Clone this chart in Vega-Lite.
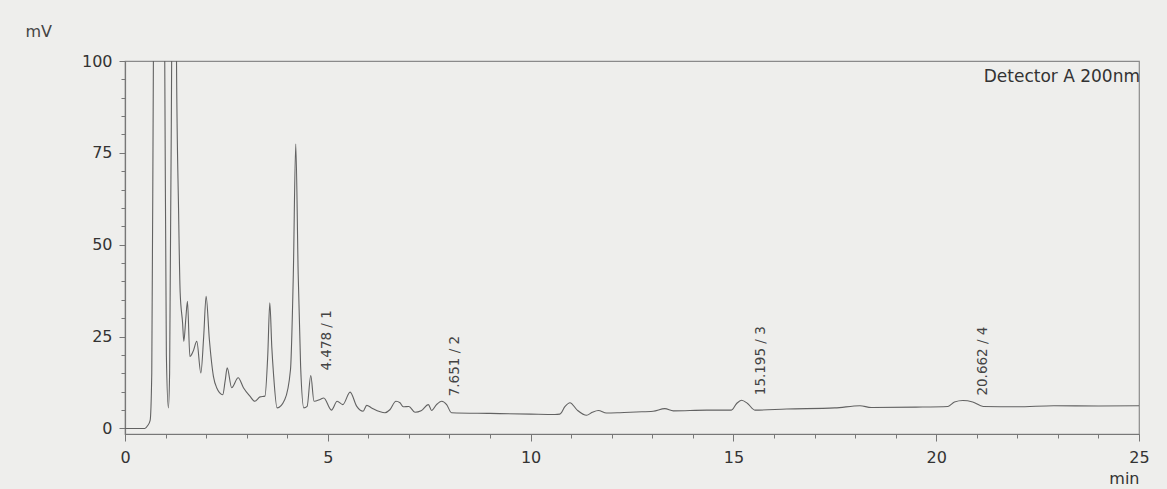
{
  "$schema": "https://vega.github.io/schema/vega-lite/v6.json",
  "width": 1014,
  "height": 373,
  "autosize": {"type": "none"},
  "padding": {"left": 125, "top": 61, "right": 28, "bottom": 55},
  "background": "#eeeeec",
  "config": {
    "view": {"stroke": "#8a8a8a", "strokeWidth": 1.2},
    "font": "DejaVu Sans"
  },
  "datasets": {
    "trace": [
      {"t": 0, "y": 0}, {"t": 0.49, "y": 0}, {"t": 0.56, "y": 0.8}, {"t": 0.62, "y": 2.2},
      {"t": 0.66, "y": 15}, {"t": 0.70, "y": 100}, {"t": 0.84, "y": 250}, {"t": 0.98, "y": 100},
      {"t": 1.02, "y": 20}, {"t": 1.07, "y": 5.6}, {"t": 1.10, "y": 15}, {"t": 1.15, "y": 100},
      {"t": 1.21, "y": 250}, {"t": 1.27, "y": 100}, {"t": 1.32, "y": 60}, {"t": 1.36, "y": 37},
      {"t": 1.42, "y": 28.7}, {"t": 1.45, "y": 23.7}, {"t": 1.50, "y": 30}, {"t": 1.54, "y": 34.6},
      {"t": 1.60, "y": 19.6}, {"t": 1.68, "y": 21.0}, {"t": 1.77, "y": 23.7}, {"t": 1.87, "y": 15.1},
      {"t": 1.94, "y": 25}, {"t": 2.00, "y": 36.0}, {"t": 2.08, "y": 24.2}, {"t": 2.18, "y": 14.2},
      {"t": 2.26, "y": 11.1}, {"t": 2.41, "y": 9.2}, {"t": 2.47, "y": 13}, {"t": 2.52, "y": 16.5},
      {"t": 2.63, "y": 11.1}, {"t": 2.79, "y": 13.8}, {"t": 2.92, "y": 11.1}, {"t": 3.08, "y": 8.8},
      {"t": 3.20, "y": 7.4}, {"t": 3.33, "y": 8.6}, {"t": 3.45, "y": 8.8}, {"t": 3.52, "y": 20},
      {"t": 3.57, "y": 34.2}, {"t": 3.62, "y": 22}, {"t": 3.66, "y": 15.1}, {"t": 3.75, "y": 5.6},
      {"t": 3.94, "y": 7.9}, {"t": 4.08, "y": 16.0}, {"t": 4.15, "y": 42}, {"t": 4.21, "y": 77.4},
      {"t": 4.27, "y": 42}, {"t": 4.33, "y": 16.9}, {"t": 4.41, "y": 5.6}, {"t": 4.49, "y": 6.0},
      {"t": 4.58, "y": 14.4}, {"t": 4.66, "y": 7.4}, {"t": 4.81, "y": 7.9}, {"t": 4.90, "y": 8.3},
      {"t": 5.09, "y": 5.0}, {"t": 5.23, "y": 7.4}, {"t": 5.37, "y": 6.5}, {"t": 5.55, "y": 9.9},
      {"t": 5.71, "y": 6.1}, {"t": 5.87, "y": 4.7}, {"t": 5.96, "y": 6.3}, {"t": 6.08, "y": 5.6},
      {"t": 6.41, "y": 4.3}, {"t": 6.53, "y": 5.1}, {"t": 6.68, "y": 7.4}, {"t": 6.78, "y": 7.0},
      {"t": 6.86, "y": 5.9}, {"t": 7.00, "y": 6.0}, {"t": 7.15, "y": 4.4}, {"t": 7.30, "y": 4.8},
      {"t": 7.48, "y": 6.5}, {"t": 7.56, "y": 4.9}, {"t": 7.68, "y": 6.5}, {"t": 7.81, "y": 7.4},
      {"t": 7.93, "y": 6.5}, {"t": 8.05, "y": 4.3}, {"t": 9.0, "y": 4.1}, {"t": 10.0, "y": 3.9},
      {"t": 10.6, "y": 3.8}, {"t": 10.72, "y": 3.9}, {"t": 10.85, "y": 6.0}, {"t": 10.97, "y": 7.0},
      {"t": 11.15, "y": 5.0}, {"t": 11.38, "y": 3.6}, {"t": 11.52, "y": 4.4}, {"t": 11.67, "y": 4.9},
      {"t": 11.87, "y": 4.2}, {"t": 12.2, "y": 4.3}, {"t": 12.6, "y": 4.5}, {"t": 13.02, "y": 4.7},
      {"t": 13.31, "y": 5.4}, {"t": 13.52, "y": 4.8}, {"t": 14.34, "y": 5.0}, {"t": 14.95, "y": 5.0},
      {"t": 15.08, "y": 6.8}, {"t": 15.20, "y": 7.7}, {"t": 15.35, "y": 6.8}, {"t": 15.53, "y": 5.0},
      {"t": 16.31, "y": 5.3}, {"t": 17.5, "y": 5.6}, {"t": 18.12, "y": 6.2}, {"t": 18.4, "y": 5.7},
      {"t": 19.5, "y": 5.8}, {"t": 20.29, "y": 6.0}, {"t": 20.45, "y": 7.2}, {"t": 20.66, "y": 7.6},
      {"t": 20.9, "y": 7.2}, {"t": 21.16, "y": 6.0}, {"t": 22.0, "y": 5.9}, {"t": 22.9, "y": 6.2},
      {"t": 24.0, "y": 6.1}, {"t": 25.0, "y": 6.2}
    ],
    "peaks": [
      {"rt": 4.478, "h": 14.4, "label": "4.478 / 1"},
      {"rt": 7.651, "h": 7.4, "label": "7.651 / 2"},
      {"rt": 15.195, "h": 7.7, "label": "15.195 / 3"},
      {"rt": 20.662, "h": 7.6, "label": "20.662 / 4"}
    ]
  },
  "resolve": {"axis": {"x": "independent", "y": "independent"}},
  "layer": [
    {
      "data": {"name": "trace"},
      "mark": {"type": "line", "clip": true, "color": "#626262", "strokeWidth": 1.1, "interpolate": "monotone"},
      "encoding": {
        "x": {
          "field": "t", "type": "quantitative",
          "scale": {"domain": [0, 25], "nice": false, "zero": false},
          "axis": {
            "orient": "bottom",
            "values": [0, 5, 10, 15, 20, 25],
            "tickSize": 7,
            "grid": false,
            "domainColor": "#777", "tickColor": "#777", "domainWidth": 1.2,
            "labelColor": "#333", "labelFontSize": 16, "labelFont": "DejaVu Sans",
            "labelPadding": 8, "labelFlush": false, "labelOverlap": false,
            "title": "min", "titleFont": "DejaVu Sans", "titleFontSize": 16, "titleFontWeight": "normal",
            "titleColor": "#333", "titleAnchor": "end", "titleAlign": "right", "titleBaseline": "alphabetic",
            "titleX": 1014, "titleY": 49
          }
        },
        "y": {
          "field": "y", "type": "quantitative",
          "scale": {"domain": [-1.5, 100], "nice": false, "zero": false},
          "axis": {
            "orient": "left",
            "values": [0, 25, 50, 75, 100],
            "tickSize": 6,
            "grid": false,
            "domainColor": "#777", "tickColor": "#777", "domainWidth": 1.2,
            "labelColor": "#333", "labelFontSize": 16, "labelFont": "DejaVu Sans",
            "labelPadding": 7, "labelOverlap": false, "labelFlush": false,
            "title": "mV", "titleFont": "DejaVu Sans", "titleFontSize": 16, "titleFontWeight": "normal",
            "titleColor": "#444", "titleAngle": 0, "titleAlign": "left", "titleBaseline": "alphabetic",
            "titleX": -100, "titleY": -25
          }
        }
      }
    },
    {
      "data": {"name": "peaks"},
      "mark": {"type": "text", "angle": 270, "align": "left", "baseline": "middle", "dx": 5, "dy": 20, "fontSize": 13.5, "font": "DejaVu Sans", "color": "#444"},
      "encoding": {
        "x": {
          "field": "rt", "type": "quantitative",
          "axis": {
            "orient": "bottom", "values": [1,2,3,4,6,7,8,9,11,12,13,14,16,17,18,19,21,22,23,24],
            "labels": false, "domain": false, "grid": false, "tickSize": 4, "tickColor": "#777", "title": null
          }
        },
        "y": {
          "field": "h", "type": "quantitative",
          "axis": {
            "orient": "left", "values": [5,10,15,20,30,35,40,45,55,60,65,70,80,85,90,95],
            "labels": false, "domain": false, "grid": false, "tickSize": 4, "tickColor": "#777", "title": null
          }
        },
        "text": {"field": "label"}
      }
    },
    {
      "data": {"values": [{}]},
      "mark": {"type": "text", "text": "Detector A 200nm", "align": "right", "baseline": "alphabetic", "dx": 1, "dy": 21, "fontSize": 17, "font": "DejaVu Sans", "color": "#333"},
      "encoding": {
        "x": {"datum": 25, "type": "quantitative", "axis": null},
        "y": {"datum": 100, "type": "quantitative", "axis": null}
      }
    }
  ]
}
